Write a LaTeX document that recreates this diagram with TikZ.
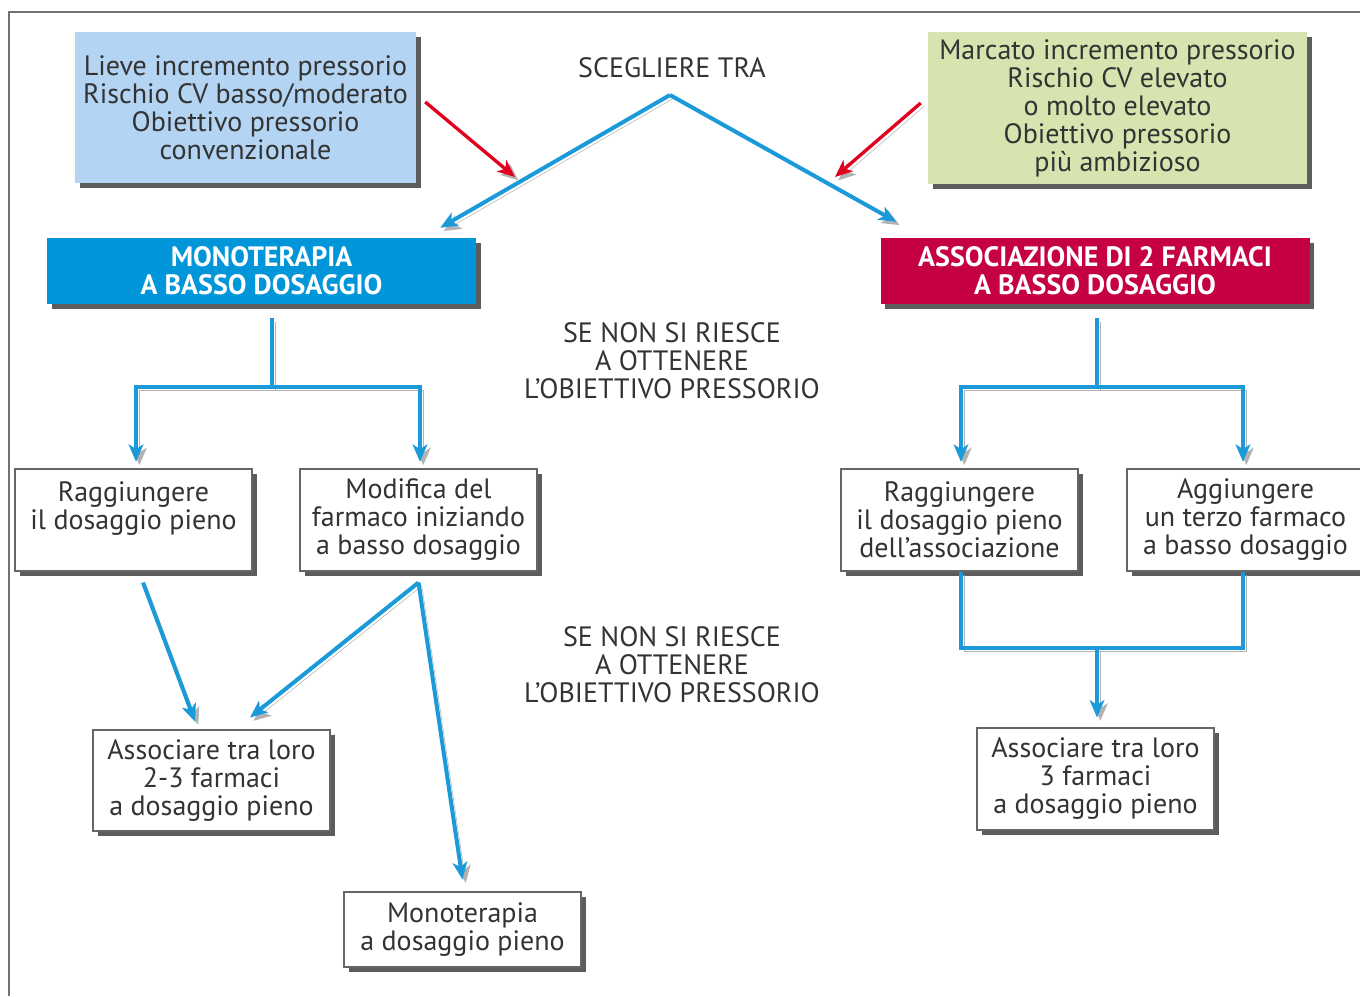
\documentclass[tikz,border=0pt]{standalone}
\usepackage{fontspec}
\setmainfont{PT Sans}
\usetikzlibrary{arrows.meta,shadows,calc}
\definecolor{cblue}{HTML}{1A9AD8}
\definecolor{hblue}{HTML}{0096D9}
\definecolor{hred}{HTML}{C50044}
\definecolor{lblue}{HTML}{B3D4F2}
\definecolor{lgreen}{HTML}{D6E4AF}
\definecolor{txt}{HTML}{333333}
\definecolor{rarrow}{HTML}{E1001E}
\begin{document}
\begin{tikzpicture}[x=0.75pt,y=-0.75pt,
  font=\fontsize{21}{21}\selectfont, text=txt,
  shad/.style={drop shadow={shadow xshift=3.5pt,shadow yshift=-3.5pt,fill=black!80,opacity=0.8}},
  box/.style={draw=black!60, line width=0.8pt, fill=white, shad, align=center, inner sep=0pt,
    minimum width=177.75pt},
  info/.style={fill=#1, shad, align=center, inner sep=0pt},
  head/.style={fill=#1, shad, align=center, inner sep=0pt, text=white,
    font=\fontsize{21}{21}\selectfont\bfseries, minimum width=321.75pt, minimum height=49.5pt},
  lbl/.style={align=center, inner sep=0pt},
  lineshadow/.style={preaction={draw=black!30, transform canvas={shift={(2.5pt,-2.5pt)}}}},
  line/.style={draw=cblue, line width=3pt, lineshadow},
  arr/.style={line, -{Stealth[length=13pt,width=11pt,inset=3.5pt]}},
  rarr/.style={draw=rarrow, line width=2.5pt, -{Stealth[length=13pt,width=11pt,inset=3.5pt]}, lineshadow}
]
\useasboundingbox (0,0) rectangle (1360,996);
\draw[black!55, line width=1pt] (1360,12) -- (9,12) -- (9,996);

% top boxes
\node[info=lblue, minimum width=255.75pt, minimum height=113.25pt] (lb) at (245.5,107.5)
  {Lieve incremento pressorio\\Rischio CV basso/moderato\\Obiettivo pressorio\\convenzionale};
\node[info=lgreen, minimum width=284.25pt, minimum height=114pt] (gr) at (1117.5,108)
  {Marcato incremento pressorio\\Rischio CV elevato\\o molto elevato\\Obiettivo pressorio\\più ambizioso};
\node[lbl] (sce) at (672,68) {SCEGLIERE TRA};

% header boxes
\node[head=hblue] (mono) at (261.5,271) {MONOTERAPIA\\A BASSO DOSAGGIO};
\node[head=hred] (assoc) at (1095,271) {ASSOCIAZIONE DI 2 FARMACI\\A BASSO DOSAGGIO};

% middle labels
\node[lbl] (se1) at (672,361) {SE NON SI RIESCE\\A OTTENERE\\L’OBIETTIVO PRESSORIO};
\node[lbl] (se2) at (672,665) {SE NON SI RIESCE\\A OTTENERE\\L’OBIETTIVO PRESSORIO};

% row 2 boxes
\node[box, minimum height=76.5pt] (r1) at (133.5,520) {Raggiungere\\il dosaggio pieno\\\phantom{a}};
\node[box, minimum height=76.5pt] (r2) at (418.5,520) {Modifica del\\farmaco iniziando\\a basso dosaggio};
\node[box, minimum height=76.5pt] (r3) at (959.5,520) {Raggiungere\\il dosaggio pieno\\dell’associazione};
\node[box, minimum height=76.5pt] (r4) at (1245.5,520) {Aggiungere\\un terzo farmaco\\a basso dosaggio};

% row 3 boxes
\node[box, minimum height=75.75pt] (a1) at (211.5,780.5) {Associare tra loro\\2-3 farmaci\\a dosaggio pieno};
\node[box, minimum height=76.5pt] (a2) at (1095.5,779) {Associare tra loro\\3 farmaci\\a dosaggio pieno};
\node[box, minimum height=56.25pt] (m) at (462.5,929.5) {Monoterapia\\a dosaggio pieno};

% V connectors
\coordinate (apex) at (670,95);
\draw[arr] (apex) -- ([shift={(-36,-10)}]mono.north east);
\draw[arr] (apex) -- ([shift={(16,-16)}]assoc.north west);
\coordinate (redL) at (515,177);
\coordinate (redR) at (835,177);
\draw[rarr] ([shift={(9,-5.5)}]lb.east) -- (redL);
\draw[rarr] ([shift={(-7,-5)}]gr.west) -- (redR);

% left tree
\coordinate (j1) at (272,387);
\draw[line] ([yshift=-10.5pt]mono.south -| j1) -- (j1);
\draw[arr, shorten >=5pt] (j1) -| ([xshift=1.9pt]r1.north);
\draw[arr, shorten >=5pt] (j1) -| ([xshift=1.1pt]r2.north);

% right tree
\coordinate (j2) at (1097,387);
\draw[line] ([yshift=-10.5pt]assoc.south -| j2) -- (j2);
\draw[arr, shorten >=5pt] (j2) -| ([xshift=1.1pt]r3.north);
\draw[arr, shorten >=5pt] (j2) -| ([xshift=-1.9pt]r4.north);

% left lower arrows
\coordinate (s2) at ([yshift=-8.25pt]r2.south);
\draw[arr] ([shift={(9.5,11)}]r1.south) -- ([shift={(-16.5,-8)}]a1.north);
\draw[arr] (s2) -- ([shift={(38.5,-12)}]a1.north);
\draw[arr] (s2) -- ([shift={(0,-12)}]m.north);

% right lower
\coordinate (j3) at (1097,648);
\draw[line] ([xshift=1.1pt]r3.south) |- (j3) -| ([xshift=-1.9pt]r4.south);
\draw[arr, shorten >=7.5pt] (j3) -- (j3 |- a2.north);
\end{tikzpicture}
\end{document}
